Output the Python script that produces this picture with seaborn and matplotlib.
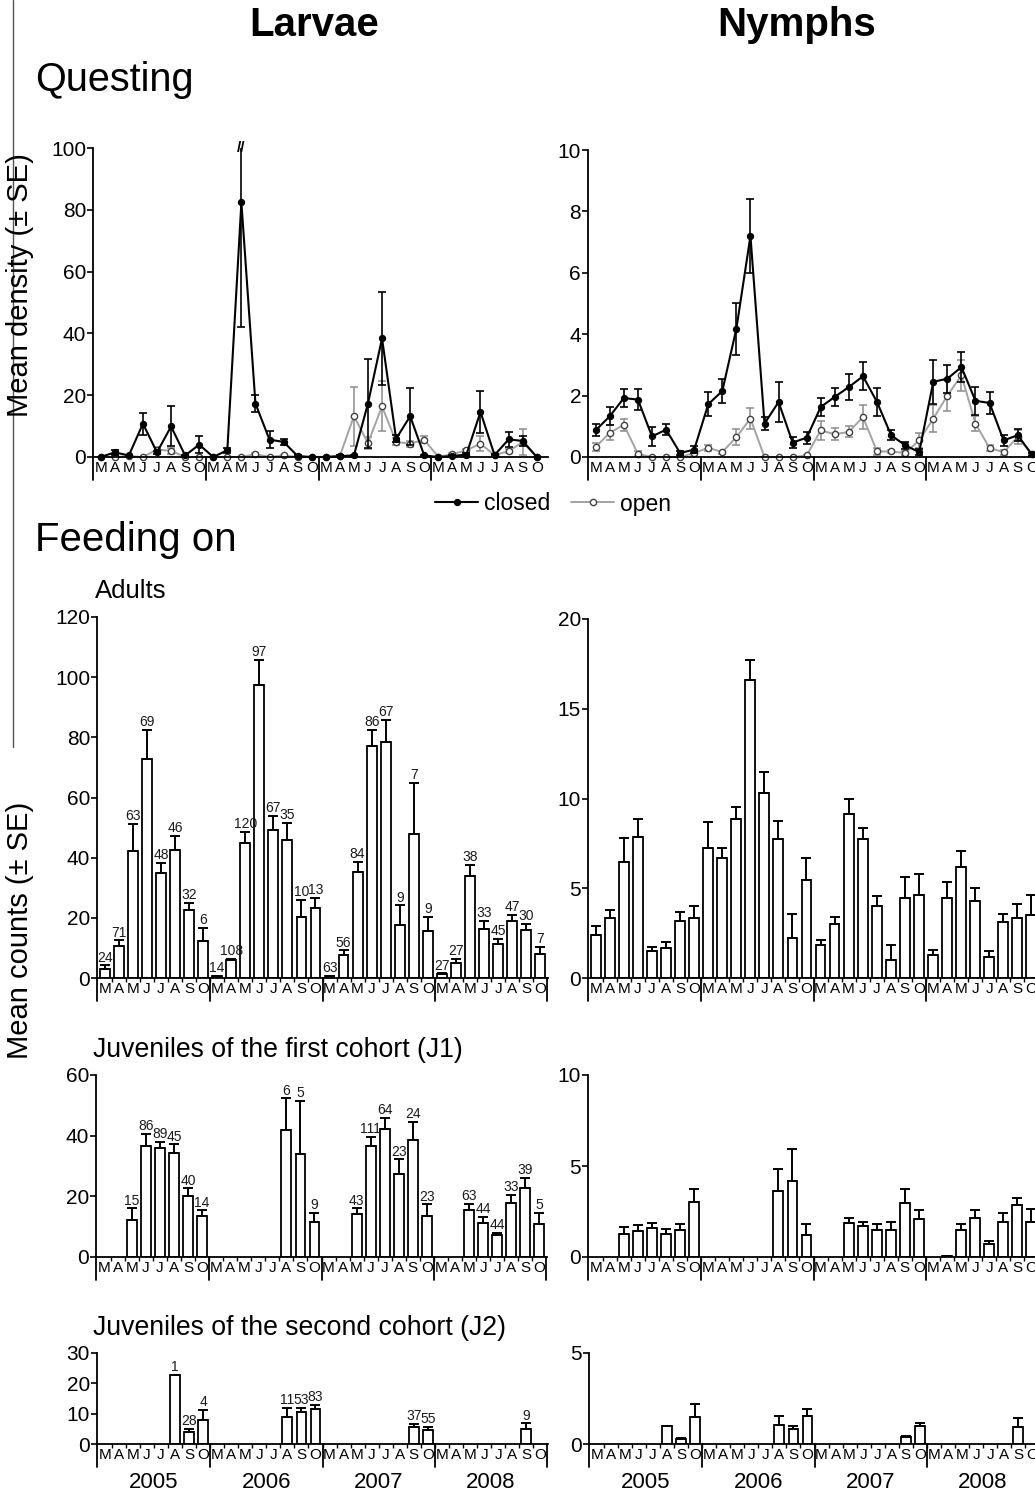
import numpy as np
import pandas as pd
import matplotlib
matplotlib.use("Agg")
import matplotlib.pyplot as plt
from matplotlib import font_manager
from matplotlib.lines import Line2D
from matplotlib.transforms import blended_transform_factory
import seaborn as sns

W, H = 1035, 1495
NAN = np.nan

MONTHS = ["M", "A", "M", "J", "J", "A", "S", "O"]
YEARS = ["2005", "2006", "2007", "2008"]

# ---------------------------------------------------------------------------
# Questing (mean density +- SE), 4 years x 8 months
# ---------------------------------------------------------------------------
larv_closed = [0, 1.5, 0.5, 10.8, 1.5, 9.9, 0.5, 4.0,
               0, 2.2, 82.4, 17.3, 5.6, 4.9, 0.3, 0,
               0, 0.3, 0.5, 17.3, 38.4, 5.9, 13.2, 0.5,
               0, 0.3, 0.8, 14.6, 0.6, 5.7, 5.2, 0]
larv_closed_se = [0, 0.9, 0.2, 3.6, 0.5, 6.5, 0.3, 2.8,
                  0, 0.8, 40.2, 2.8, 2.8, 1.0, 0.2, 0,
                  0, 0.2, 0.3, 14.4, 15.1, 1.2, 9.2, 0.2,
                  0, 0.2, 0.4, 6.7, 0.3, 2.4, 1.5, 0]
larv_open = [0, 0, 0.3, 0, 2.4, 2.0, 0, 0,
             0, 0, 0, 0.9, 0, 0.5, 0, 0,
             0, 0.3, 13.2, 4.5, 16.4, 4.9, 4.3, 5.6,
             0, 0.9, 2.2, 4.3, 0.6, 1.9, 4.8, 0]
larv_open_se = [0, 0, 0.2, 0, 0.8, 0.9, 0, 0,
                0, 0, 0, 0.3, 0, 0.3, 0, 0,
                0, 0.2, 9.5, 2.0, 8.1, 1.1, 1.0, 1.2,
                0, 0.3, 0.5, 2.5, 0.3, 0.6, 4.2, 0]

nymph_closed = [0.87, 1.33, 1.92, 1.87, 0.67, 0.89, 0.13, 0.24,
                1.72, 2.15, 4.18, 7.20, 1.09, 1.79, 0.47, 0.63,
                1.63, 1.96, 2.28, 2.63, 1.79, 0.71, 0.38, 0.16,
                2.45, 2.55, 2.93, 1.83, 1.76, 0.54, 0.71, 0.09]
nymph_closed_se = [0.20, 0.30, 0.28, 0.33, 0.30, 0.18, 0.05, 0.12,
                   0.40, 0.40, 0.85, 1.20, 0.20, 0.65, 0.18, 0.20,
                   0.28, 0.30, 0.42, 0.45, 0.45, 0.17, 0.12, 0.10,
                   0.72, 0.45, 0.50, 0.45, 0.35, 0.18, 0.20, 0.05]
nymph_open = [0.33, 0.79, 1.05, 0.10, 0, 0, 0, 0.13,
              0.30, 0.16, 0.65, 1.25, 0, 0, 0, 0.05,
              0.87, 0.74, 0.82, 1.30, 0.18, 0.18, 0.13, 0.54,
              1.25, 2.00, 2.66, 1.09, 0.29, 0.16, 0.65, 0.09]
nymph_open_se = [0.12, 0.25, 0.20, 0.08, 0, 0, 0, 0.08,
                 0.10, 0.05, 0.25, 0.33, 0, 0, 0, 0.03,
                 0.30, 0.20, 0.18, 0.40, 0.10, 0.06, 0.08, 0.25,
                 0.45, 0.50, 0.50, 0.25, 0.10, 0.08, 0.23, 0.03]

# ---------------------------------------------------------------------------
# Feeding on hosts (mean counts +- SE, n hosts above bars)
# ---------------------------------------------------------------------------
ad_larv = [3.1, 10.6, 42.2, 72.9, 35.0, 42.4, 22.5, 12.3,
           0.6, 5.9, 44.9, 97.5, 49.1, 46.0, 20.3, 23.4,
           0.6, 7.5, 35.4, 77.1, 78.6, 17.5, 48.0, 15.5,
           1.2, 5.1, 33.9, 16.4, 11.4, 18.8, 16.1, 8.1]
ad_larv_se = [1.1, 1.9, 9.1, 9.6, 3.2, 4.8, 2.4, 4.4,
              0.2, 0.5, 3.6, 8.3, 4.7, 5.6, 5.7, 3.2,
              0.2, 1.7, 3.1, 5.4, 7.3, 6.6, 16.8, 4.8,
              0.3, 1.3, 3.8, 2.5, 1.7, 2.2, 2.0, 2.2]
ad_n = [24, 71, 63, 69, 48, 46, 32, 6,
        14, 108, 120, 97, 67, 35, 10, 13,
        63, 56, 84, 86, 67, 9, 7, 9,
        27, 27, 38, 33, 45, 47, 30, 7]
ad_nymph = [2.38, 3.37, 6.47, 7.83, 1.49, 1.69, 3.18, 3.35,
            7.22, 6.70, 8.86, 16.6, 10.3, 7.74, 2.25, 5.45,
            1.82, 3.00, 9.13, 7.74, 4.00, 0.99, 4.47, 4.61,
            1.27, 4.43, 6.20, 4.28, 1.17, 3.13, 3.37, 3.50]
ad_nymph_se = [0.50, 0.41, 1.31, 1.03, 0.24, 0.31, 0.50, 0.65,
               1.45, 0.52, 0.68, 1.10, 1.16, 1.02, 1.34, 1.25,
               0.28, 0.40, 0.82, 0.63, 0.58, 0.83, 1.13, 1.16,
               0.31, 0.93, 0.89, 0.71, 0.32, 0.46, 0.78, 1.11]

j1_larv = [NAN, NAN, 12.3, 36.6, 35.8, 34.4, 20.0, 13.5,
           NAN, NAN, NAN, NAN, NAN, 41.9, 33.9, 11.6,
           NAN, NAN, 14.3, 36.7, 42.1, 27.2, 38.5, 13.5,
           NAN, NAN, 15.6, 11.3, 7.2, 17.8, 22.6, 11.0]
j1_larv_se = [NAN, NAN, 3.7, 4.1, 2.2, 2.7, 2.6, 1.9,
              NAN, NAN, NAN, NAN, NAN, 10.4, 17.6, 2.9,
              NAN, NAN, 1.7, 2.9, 3.8, 5.0, 6.1, 3.9,
              NAN, NAN, 2.0, 1.9, 0.8, 2.6, 3.5, 3.5]
j1_n = [None, None, 15, 86, 89, 45, 40, 14,
        None, None, None, None, None, 6, 5, 9,
        None, None, 43, 111, 64, 23, 24, 23,
        None, None, 63, 44, 44, 33, 39, 5]
j1_nymph = [NAN, NAN, 1.25, 1.43, 1.61, 1.25, 1.50, 3.03,
            NAN, NAN, NAN, NAN, NAN, 3.63, 4.17, 1.19,
            NAN, NAN, 1.87, 1.71, 1.50, 1.50, 2.97, 2.11,
            NAN, 0.03, 1.50, 2.17, 0.73, 1.93, 2.88, 1.93]
j1_nymph_se = [NAN, NAN, 0.40, 0.31, 0.28, 0.27, 0.33, 0.69,
               NAN, NAN, NAN, NAN, NAN, 1.18, 1.79, 0.64,
               NAN, NAN, 0.30, 0.22, 0.33, 0.43, 0.75, 0.46,
               NAN, 0.0, 0.33, 0.40, 0.15, 0.49, 0.37, 0.69]

j2_larv = [NAN, NAN, NAN, NAN, NAN, 22.7, 4.1, 7.9,
           NAN, NAN, NAN, NAN, NAN, 9.0, 10.6, 11.7,
           NAN, NAN, NAN, NAN, NAN, NAN, 5.7, 4.6,
           NAN, NAN, NAN, NAN, NAN, NAN, 5.1, NAN]
j2_larv_se = [NAN, NAN, NAN, NAN, NAN, 0.0, 1.0, 3.3,
              NAN, NAN, NAN, NAN, NAN, 2.9, 1.4, 1.1,
              NAN, NAN, NAN, NAN, NAN, NAN, 0.9, 1.1,
              NAN, NAN, NAN, NAN, NAN, NAN, 1.7, NAN]
j2_n = [None, None, None, None, None, 1, 28, 4,
        None, None, None, None, None, 11, 53, 83,
        None, None, None, None, None, None, 37, 55,
        None, None, None, None, None, None, 9, None]
j2_nymph = [NAN, NAN, NAN, NAN, NAN, 0.99, 0.26, 1.51,
            NAN, NAN, NAN, NAN, NAN, 1.05, 0.83, 1.56,
            NAN, NAN, NAN, NAN, NAN, NAN, 0.37, 0.99,
            NAN, NAN, NAN, NAN, NAN, NAN, 0.92, NAN]
j2_nymph_se = [NAN, NAN, NAN, NAN, NAN, 0.0, 0.09, 0.69,
               NAN, NAN, NAN, NAN, NAN, 0.51, 0.16, 0.35,
               NAN, NAN, NAN, NAN, NAN, NAN, 0.09, 0.15,
               NAN, NAN, NAN, NAN, NAN, NAN, 0.53, NAN]

# ---------------------------------------------------------------------------
sns.set_theme(style="ticks")
installed = {f.name for f in font_manager.fontManager.ttflist}
NARROW = "Liberation Sans Narrow" if "Liberation Sans Narrow" in installed else "Liberation Sans"
plt.rcParams["font.family"] = ["Liberation Sans", "DejaVu Sans"]
plt.rcParams["axes.linewidth"] = 1.3
for key in ("text.color", "axes.labelcolor", "xtick.color", "ytick.color", "axes.edgecolor"):
    plt.rcParams[key] = "black"

fig = plt.figure(figsize=(W / 100, H / 100), dpi=100)


def rect(x0, x1, ytop, ybot):
    return [x0 / W, 1 - ybot / H, (x1 - x0) / W, (ybot - ytop) / H]


def style_axes(ax, ymax, yticks, ypix, x_right, minor, end_div):
    sns.despine(ax=ax)
    ax.set_ylim(0, ymax)
    ax.set_yticks(yticks)
    ax.set_yticklabels([str(t) for t in yticks])
    ax.tick_params(axis="y", labelsize=15, length=4, width=1.2, pad=1, colors="black")
    ax.set_xlim(-0.55, x_right)
    ax.set_xticks(np.arange(32))
    ax.set_xticklabels(MONTHS * 4)
    ax.tick_params(axis="x", which="major", length=0, pad=3, labelsize=11, colors="black")
    ax.set_xlabel("")
    ax.set_ylabel("")
    if minor:
        ax.set_xticks(np.arange(0.5, 31, 1), minor=True)
        ax.tick_params(axis="x", which="minor", length=3, width=1, direction="out")
    frac = 23 / ypix
    bounds = [-0.55, 7.5, 15.5, 23.5] + ([31.5] if end_div else [])
    for b in bounds:
        ax.axvline(b, ymin=-frac, ymax=0, color="black", lw=1.3, clip_on=False)


def questing_panel(ax, cm, cs, om, os_, ymax, yticks, ypix):
    idx = np.arange(32)
    ax.errorbar(idx, om, yerr=os_, fmt="none", ecolor="#8c8c8c", elinewidth=1.1,
                capsize=3, capthick=1.1)
    sns.lineplot(x=idx, y=om, ax=ax, color="#a3a3a3", lw=1.4, marker="o",
                 markersize=4.5, markerfacecolor="white", markeredgecolor="#404040",
                 markeredgewidth=1.0, label="open", clip_on=False)
    ax.errorbar(idx, cm, yerr=cs, fmt="none", ecolor="black", elinewidth=1.2,
                capsize=3, capthick=1.2)
    sns.lineplot(x=idx, y=cm, ax=ax, color="black", lw=1.5, marker="o",
                 markersize=4.5, markerfacecolor="black", markeredgecolor="black",
                 label="closed", clip_on=False)
    style_axes(ax, ymax, yticks, ypix, 31.8, minor=False, end_div=False)


def bar_panel(ax, mean, se, ymax, yticks, ypix, counts=None):
    order = [str(i) for i in range(32)]
    df = pd.DataFrame({"month": order, "mean": mean})
    sns.barplot(data=df, x="month", y="mean", order=order, color="white",
                saturation=1, edgecolor="black", linewidth=1.3, width=0.7,
                errorbar=None, ax=ax)
    x = np.arange(32)
    m = np.asarray(mean, float)
    s = np.asarray(se, float)
    ok = ~np.isnan(m)
    ax.errorbar(x[ok], m[ok], yerr=[np.zeros(ok.sum()), s[ok]], fmt="none",
                ecolor="black", elinewidth=1.4, capsize=3.5, capthick=1.4)
    if counts is not None:
        for xi, top, n in zip(x, m + s, counts):
            if n is None:
                continue
            ax.annotate(str(n), (xi, top), xytext=(0, 0.5), textcoords="offset points",
                        ha="center", va="bottom", fontsize=10, family=NARROW,
                        color="#1a1a1a")
    style_axes(ax, ymax, yticks, ypix, 31.55, minor=True, end_div=True)


# --- Questing -------------------------------------------------------------
ax_ql = fig.add_axes(rect(93, 548, 148, 457))
questing_panel(ax_ql, larv_closed, larv_closed_se, larv_open, larv_open_se,
               100, [0, 20, 40, 60, 80, 100], 309)
ax_ql.annotate("//", (10, 100), ha="center", va="center", fontsize=11,
               fontweight="bold", annotation_clip=False)

ax_qn = fig.add_axes(rect(588, 1043, 150, 457))
questing_panel(ax_qn, nymph_closed, nymph_closed_se, nymph_open, nymph_open_se,
               10, [0, 2, 4, 6, 8, 10], 307)

handles, labels = ax_ql.get_legend_handles_labels()
lut = dict(zip(labels, handles))
for a in (ax_ql, ax_qn):
    if a.get_legend() is not None:
        a.get_legend().remove()
fig.legend([lut["closed"], lut["open"]], ["closed", "open"], loc="center",
           bbox_to_anchor=(553 / W, 1 - 504 / H), ncol=2, frameon=False,
           fontsize=16.5, handlelength=1.9, handletextpad=0.25, columnspacing=0.9)

# --- Feeding on: adults ---------------------------------------------------
ax_al = fig.add_axes(rect(97, 548, 617, 978))
bar_panel(ax_al, ad_larv, ad_larv_se, 120, [0, 20, 40, 60, 80, 100, 120], 361, ad_n)
ax_an = fig.add_axes(rect(588, 1039, 619, 978))
bar_panel(ax_an, ad_nymph, ad_nymph_se, 20, [0, 5, 10, 15, 20], 359)

# --- Feeding on: J1 -------------------------------------------------------
ax_1l = fig.add_axes(rect(96, 547, 1075, 1257))
bar_panel(ax_1l, j1_larv, j1_larv_se, 60, [0, 20, 40, 60], 182, j1_n)
ax_1n = fig.add_axes(rect(588, 1039, 1075, 1257))
bar_panel(ax_1n, j1_nymph, j1_nymph_se, 10, [0, 5, 10], 182)

# --- Feeding on: J2 -------------------------------------------------------
ax_2l = fig.add_axes(rect(97, 548, 1353, 1444))
bar_panel(ax_2l, j2_larv, j2_larv_se, 30, [0, 10, 20, 30], 91, j2_n)
ax_2n = fig.add_axes(rect(589, 1040, 1353, 1444))
bar_panel(ax_2n, j2_nymph, j2_nymph_se, 5, [0, 5], 91)

for a in (ax_2l, ax_2n):
    tr = blended_transform_factory(a.transData, a.transAxes)
    for k, yr in enumerate(YEARS):
        a.text(3.5 + 8 * k, -(1483 - 1444) / 91, yr, transform=tr, ha="center",
               va="center", fontsize=16)

# --- Text -----------------------------------------------------------------
fig.text(314 / W, 1 - 25 / H, "Larvae", ha="center", va="center", fontsize=29,
         fontweight="bold", family=NARROW)
fig.text(797 / W, 1 - 25 / H, "Nymphs", ha="center", va="center", fontsize=29,
         fontweight="bold", family=NARROW)
fig.text(35 / W, 1 - 80 / H, "Questing", ha="left", va="center", fontsize=28.5)
fig.text(35 / W, 1 - 540 / H, "Feeding on", ha="left", va="center", fontsize=29)
fig.text(95 / W, 1 - 591 / H, "Adults", ha="left", va="center", fontsize=18.5)
fig.text(93 / W, 1 - 1050 / H, "Juveniles of the first cohort (J1)", ha="left",
         va="center", fontsize=19.2)
fig.text(93 / W, 1 - 1328 / H, "Juveniles of the second cohort (J2)", ha="left",
         va="center", fontsize=19.2)
fig.text(20 / W, 1 - 285 / H, "Mean density (± SE)", rotation=90, ha="center",
         va="center", fontsize=21)
fig.text(20 / W, 1 - 930 / H, "Mean counts (± SE)", rotation=90, ha="center",
         va="center", fontsize=21)

fig.add_artist(Line2D([13 / W, 13 / W], [1, 1 - 747 / H], transform=fig.transFigure,
                      color="#555555", lw=1.0))

fig.savefig("out.png", dpi=100)
